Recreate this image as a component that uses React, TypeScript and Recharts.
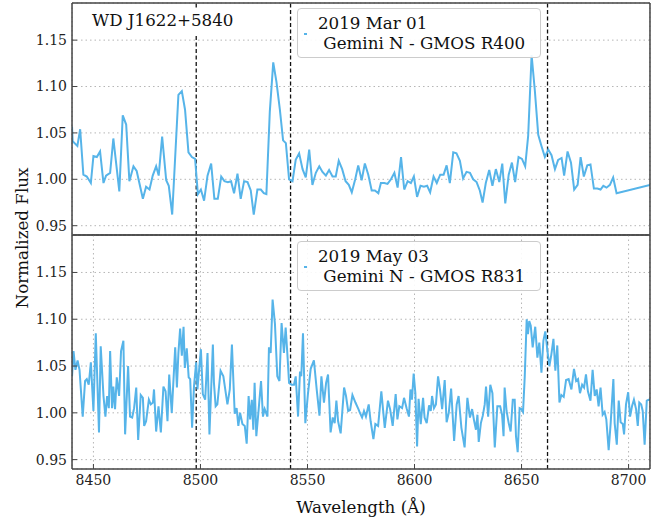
import React from 'react';
import { LineChart, Line, XAxis, YAxis, CartesianGrid, ReferenceLine } from 'recharts';

// 2019 Mar 01, Gemini N - GMOS R400
const marWave = [
  8440.0, 8440.3, 8442.5, 8443.8, 8445.3, 8446.9, 8448.8, 8450.0, 8451.6, 8453.1, 8454.7, 8455.9, 8457.8, 8459.3,
  8462.1, 8463.7, 8465.3, 8466.8, 8468.7, 8470.2, 8473.1, 8474.6, 8476.2, 8477.7, 8479.3, 8480.5, 8482.1, 8484.0,
  8485.2, 8486.8, 8489.7, 8491.3, 8492.8, 8494.4, 8496.0, 8497.5, 8498.8, 8500.2, 8501.7, 8503.3, 8505.0, 8506.5,
  8508.1, 8509.7, 8511.2, 8512.8, 8514.3, 8515.7, 8517.3, 8518.8, 8520.4, 8522.0, 8523.5, 8524.9, 8526.6, 8528.2,
  8529.6, 8530.8, 8532.4, 8534.0, 8535.5, 8537.1, 8538.6, 8539.9, 8541.4, 8543.0, 8544.5, 8546.1, 8547.7, 8549.2,
  8550.8, 8552.3, 8553.9, 8555.5, 8557.0, 8558.6, 8560.1, 8561.7, 8563.2, 8564.6, 8566.2, 8567.8, 8569.3, 8570.7,
  8572.3, 8573.7, 8575.3, 8576.8, 8578.4, 8580.0, 8581.5, 8583.1, 8584.3, 8585.9, 8587.4, 8589.0, 8590.6, 8592.1,
  8593.7, 8595.2, 8596.8, 8598.3, 8599.7, 8601.2, 8602.8, 8604.4, 8605.9, 8607.3, 8608.9, 8610.4, 8612.0, 8613.6,
  8615.0, 8616.5, 8618.1, 8619.6, 8621.2, 8622.7, 8624.3, 8625.9, 8627.4, 8629.0, 8630.5, 8631.8, 8633.3, 8634.9,
  8636.4, 8638.0, 8639.6, 8641.0, 8642.4, 8644.0, 8645.5, 8647.0, 8648.6, 8650.2, 8651.7, 8653.1, 8654.7, 8656.2,
  8657.8, 8659.3, 8660.9, 8662.5, 8664.0, 8665.6, 8667.1, 8668.7, 8669.9, 8671.5, 8673.1, 8674.6, 8676.2, 8677.6,
  8679.1, 8680.7, 8682.2, 8683.8, 8685.4, 8686.9, 8688.2, 8689.7, 8691.3, 8692.8, 8694.4, 8710.0,
];
const marFlux = [
  1.057, 1.041, 1.036, 1.054, 1.005, 1.003, 0.996, 1.025, 1.024, 1.030, 0.996, 1.004, 1.007, 1.044,
  0.987, 1.069, 1.059, 0.998, 1.014, 1.009, 0.979, 0.992, 0.989, 1.004, 1.014, 1.004, 1.046, 0.999,
  0.993, 0.962, 1.091, 1.095, 1.075, 1.029, 1.024, 1.022, 0.984, 0.989, 0.977, 1.004, 1.017, 0.979,
  0.979, 1.003, 0.998, 0.997, 0.998, 0.985, 1.006, 0.979, 0.998, 0.997, 0.988, 0.962, 0.989, 0.989,
  0.985, 0.984, 1.073, 1.126, 1.105, 1.075, 1.042, 1.039, 1.000, 0.998, 1.021, 1.028, 1.011, 1.002,
  1.032, 0.994, 1.007, 1.014, 1.008, 1.004, 1.010, 1.003, 1.003, 1.020, 1.011, 0.998, 0.994, 0.986,
  1.000, 1.015, 0.999, 1.017, 1.005, 0.988, 0.988, 0.985, 0.996, 0.996, 0.995, 1.000, 1.007, 0.991,
  1.024, 0.989, 0.998, 0.996, 1.003, 0.981, 0.993, 0.992, 0.993, 0.986, 1.003, 0.996, 1.005, 1.005,
  1.015, 0.996, 1.029, 1.028, 1.020, 1.001, 1.008, 1.007, 1.000, 0.997, 0.988, 0.975, 0.996, 1.010,
  0.993, 1.011, 0.997, 1.017, 0.974, 1.005, 1.018, 0.997, 1.024, 1.022, 1.014, 1.047, 1.134, 1.096,
  1.048, 1.036, 1.024, 1.032, 1.026, 1.011, 1.021, 1.023, 1.004, 1.030, 1.018, 0.989, 0.994, 1.024,
  1.003, 1.015, 1.016, 0.990, 0.990, 0.989, 0.993, 0.991, 0.994, 1.002, 0.985, 0.994,
];

// 2019 May 03, Gemini N - GMOS R831
const mayWave = [
  8440.0, 8440.7, 8441.6, 8442.6, 8443.5, 8445.0, 8446.1, 8446.9, 8447.8, 8448.8, 8450.0, 8451.1, 8452.6, 8453.4,
  8454.7, 8455.6, 8456.4, 8457.2, 8457.8, 8458.7, 8459.3, 8460.1, 8460.9, 8462.0, 8462.9, 8464.0, 8464.8, 8466.2,
  8467.1, 8468.1, 8469.0, 8470.0, 8470.9, 8472.1, 8473.1, 8473.7, 8474.6, 8475.9, 8476.8, 8477.8, 8478.3, 8479.3,
  8480.4, 8481.5, 8482.7, 8483.7, 8484.6, 8485.4, 8486.6, 8488.2, 8489.0, 8489.7, 8490.5, 8491.3, 8492.1, 8492.7,
  8493.6, 8494.5, 8495.2, 8496.1, 8497.0, 8498.0, 8498.6, 8500.2, 8501.1, 8502.2, 8503.3, 8504.2, 8505.8, 8506.3,
  8507.1, 8507.9, 8509.4, 8510.7, 8512.6, 8513.7, 8514.7, 8516.0, 8516.9, 8517.7, 8518.5, 8519.6, 8520.7, 8521.6,
  8522.5, 8523.2, 8524.0, 8524.7, 8525.3, 8526.1, 8527.2, 8528.3, 8529.2, 8530.0, 8531.3, 8532.0, 8532.8, 8533.7,
  8534.8, 8535.9, 8536.9, 8537.9, 8539.0, 8539.8, 8540.6, 8541.4, 8542.6, 8543.7, 8544.5, 8545.6, 8546.5, 8547.1,
  8547.9, 8549.0, 8550.2, 8551.5, 8553.0, 8554.3, 8555.6, 8556.5, 8557.7, 8558.7, 8559.6, 8560.8, 8561.8, 8562.7,
  8563.5, 8564.3, 8565.5, 8567.1, 8568.0, 8569.0, 8569.9, 8571.0, 8572.4, 8573.8, 8574.5, 8575.5, 8576.4, 8577.3,
  8578.6, 8579.5, 8580.8, 8581.7, 8583.0, 8584.5, 8586.1, 8587.6, 8588.6, 8589.8, 8591.2, 8592.0, 8592.9, 8594.2,
  8595.1, 8596.3, 8597.4, 8598.1, 8598.8, 8599.6, 8600.4, 8601.2, 8601.9, 8602.9, 8604.0, 8604.7, 8605.7, 8606.8,
  8607.6, 8608.2, 8609.1, 8610.0, 8611.0, 8611.9, 8612.9, 8614.1, 8615.0, 8616.0, 8617.1, 8618.5, 8619.7, 8620.6,
  8621.9, 8623.4, 8624.7, 8625.9, 8626.9, 8627.8, 8628.7, 8629.4, 8630.0, 8631.0, 8631.9, 8632.8, 8633.4, 8634.4,
  8635.4, 8636.4, 8637.5, 8638.7, 8640.0, 8640.9, 8641.6, 8642.1, 8643.0, 8644.0, 8644.9, 8645.9, 8646.8, 8647.4,
  8648.2, 8649.1, 8649.9, 8650.7, 8651.5, 8652.4, 8653.0, 8653.6, 8654.3, 8655.2, 8656.4, 8657.4, 8658.3, 8659.3,
  8660.2, 8661.1, 8662.1, 8663.0, 8663.9, 8664.9, 8665.8, 8666.7, 8667.7, 8668.6, 8669.7, 8670.8, 8672.0, 8673.3,
  8674.5, 8675.5, 8676.4, 8677.3, 8678.3, 8679.2, 8680.1, 8681.0, 8682.2, 8683.2, 8684.2, 8685.1, 8686.0, 8686.9,
  8687.9, 8688.8, 8689.6, 8690.7, 8691.6, 8692.9, 8693.5, 8694.5, 8695.4, 8696.3, 8697.3, 8697.9, 8698.8, 8699.8,
  8700.7, 8701.6, 8702.5, 8703.5, 8704.3, 8705.0, 8705.9, 8706.6, 8707.5, 8708.5, 8709.4, 8710.2,
];
const mayFlux = [
  1.039, 1.066, 1.046, 1.056, 1.046, 0.996, 1.034, 1.036, 1.030, 1.054, 1.002, 1.085, 0.979, 1.071,
  1.018, 0.996, 1.018, 1.005, 1.066, 1.005, 1.028, 1.004, 1.038, 1.018, 1.066, 1.077, 0.977, 1.050,
  0.996, 0.995, 1.005, 1.027, 0.971, 1.019, 1.016, 0.986, 0.991, 1.014, 1.009, 1.011, 1.025, 0.980,
  1.007, 0.979, 1.028, 1.023, 0.991, 1.041, 1.000, 1.070, 1.027, 1.064, 1.090, 1.061, 1.092, 1.048,
  1.069, 1.038, 1.036, 0.984, 1.029, 1.054, 1.025, 1.068, 1.020, 1.014, 1.064, 0.977, 1.073, 1.032,
  1.007, 1.009, 1.045, 1.039, 1.009, 1.025, 1.073, 0.999, 1.005, 0.986, 1.000, 0.988, 0.986, 0.967,
  1.018, 0.993, 1.014, 0.982, 1.032, 0.975, 1.004, 1.034, 0.996, 1.004, 0.996, 1.070, 1.064, 1.121,
  1.095, 1.039, 1.034, 1.096, 1.064, 1.091, 1.063, 1.032, 1.030, 1.030, 1.039, 0.996, 1.044, 1.039,
  1.085, 0.989, 1.020, 1.047, 1.056, 1.025, 0.997, 1.039, 1.011, 1.032, 1.041, 0.979, 0.995, 0.989,
  1.013, 0.991, 0.978, 1.027, 1.018, 1.002, 1.003, 1.019, 1.011, 1.004, 1.000, 0.995, 1.002, 0.996,
  1.009, 0.991, 0.972, 0.988, 0.986, 1.023, 0.984, 1.013, 1.004, 0.986, 1.020, 0.993, 1.007, 1.005,
  1.016, 1.005, 0.996, 1.025, 1.014, 1.042, 1.021, 0.964, 1.015, 0.988, 1.016, 0.995, 0.989, 1.008,
  1.002, 1.018, 1.005, 1.009, 1.039, 1.025, 1.004, 1.035, 0.990, 1.000, 1.026, 0.970, 1.009, 1.018,
  0.984, 0.963, 1.016, 0.995, 1.004, 0.992, 0.982, 0.998, 0.969, 0.989, 0.997, 1.009, 1.028, 0.996,
  1.030, 1.021, 0.963, 1.007, 1.007, 0.998, 0.975, 1.027, 1.002, 0.989, 0.980, 1.014, 1.014, 0.975,
  0.958, 1.005, 1.004, 1.001, 1.039, 1.100, 1.084, 1.098, 1.093, 1.070, 1.092, 1.059, 1.075, 1.043,
  1.077, 1.087, 1.066, 1.050, 1.062, 1.079, 1.045, 1.072, 1.011, 1.019, 1.017, 1.035, 1.036, 1.025,
  1.047, 1.034, 1.036, 1.021, 1.030, 1.027, 1.041, 1.023, 1.013, 1.046, 1.018, 1.025, 1.007, 1.027,
  0.998, 1.001, 0.993, 0.960, 0.988, 1.036, 0.989, 0.966, 1.013, 0.990, 0.988, 0.977, 1.009, 1.022,
  0.996, 1.007, 1.014, 1.004, 0.986, 1.011, 1.009, 1.002, 0.966, 1.013, 1.014, 1.014,
];

// Ca II triplet
const caLines = [8498.02, 8542.09, 8662.14];

const xMajor = [8450, 8500, 8550, 8600, 8650, 8700];
const xMinor = [
  8440, 8450, 8460, 8470, 8480, 8490, 8500, 8510, 8520, 8530, 8540, 8550, 8560, 8570,
  8580, 8590, 8600, 8610, 8620, 8630, 8640, 8650, 8660, 8670, 8680, 8690, 8700, 8710,
];
const yMajor = [0.95, 1.0, 1.05, 1.1, 1.15];
const yMinor = [
  0.94, 0.95, 0.96, 0.97, 0.98, 0.99, 1.0, 1.01, 1.02, 1.03, 1.04, 1.05, 1.06,
  1.07, 1.08, 1.09, 1.1, 1.11, 1.12, 1.13, 1.14, 1.15, 1.16, 1.17, 1.18, 1.19,
];

const X_DOMAIN: [number, number] = [8440, 8710];
const Y_DOMAIN: [number, number] = [0.94, 1.19];
const FONT = '"DejaVu Serif", serif';
const LINE_COLOR = '#56B4E9';
const FRAME = '#444444';
// axes are kept (almost) zero-sized so every tick set sits on the frame itself
const AX = 0.01;

function SpectrumPanel({ wave, flux, height, margin, showXLabels }: any) {
  const data = wave.map((w: number, i: number) => ({ w, f: flux[i] }));
  const tickLine = { stroke: FRAME, strokeWidth: 1 };
  const tickFont = { fill: '#222', fontSize: 14, fontFamily: FONT };
  return (
    <LineChart width={662} height={height} data={data} margin={margin}>
      <CartesianGrid xAxisId="xb" yAxisId="yl" stroke="#b5b5b5" strokeDasharray="1.5 3" />
      <XAxis xAxisId="xb" dataKey="w" type="number" domain={X_DOMAIN} allowDataOverflow ticks={xMajor} interval={0}
        height={AX} tickSize={-5} tickMargin={11} tickLine={tickLine} axisLine={{ stroke: FRAME, strokeWidth: 1.5 }}
        tick={showXLabels ? tickFont : false} />
      <XAxis xAxisId="xbm" dataKey="w" type="number" domain={X_DOMAIN} allowDataOverflow ticks={xMinor} interval={0}
        height={AX} tickSize={-3} tickLine={tickLine} axisLine={false} tick={false} />
      <XAxis xAxisId="xt" orientation="top" dataKey="w" type="number" domain={X_DOMAIN} allowDataOverflow ticks={xMajor}
        interval={0} height={AX} tickSize={-5} tickLine={tickLine} axisLine={{ stroke: FRAME, strokeWidth: 1.5 }} tick={false} />
      <XAxis xAxisId="xtm" orientation="top" dataKey="w" type="number" domain={X_DOMAIN} allowDataOverflow ticks={xMinor}
        interval={0} height={AX} tickSize={-3} tickLine={tickLine} axisLine={false} tick={false} />
      <YAxis yAxisId="yl" type="number" domain={Y_DOMAIN} allowDataOverflow ticks={yMajor} interval={0} width={AX}
        tickSize={-5} tickMargin={10} tickLine={tickLine} axisLine={{ stroke: FRAME, strokeWidth: 1.5 }}
        tick={tickFont} tickFormatter={(v: number) => v.toFixed(2)} />
      <YAxis yAxisId="ylm" type="number" domain={Y_DOMAIN} allowDataOverflow ticks={yMinor} interval={0} width={AX}
        tickSize={-3} tickLine={tickLine} axisLine={false} tick={false} />
      <YAxis yAxisId="yr" orientation="right" type="number" domain={Y_DOMAIN} allowDataOverflow ticks={yMajor} interval={0}
        width={AX} tickSize={-5} tickLine={tickLine} axisLine={{ stroke: FRAME, strokeWidth: 1.5 }} tick={false} />
      <YAxis yAxisId="yrm" orientation="right" type="number" domain={Y_DOMAIN} allowDataOverflow ticks={yMinor} interval={0}
        width={AX} tickSize={-3} tickLine={tickLine} axisLine={false} tick={false} />
      {caLines.map((x) => (
        <ReferenceLine key={x} x={x} xAxisId="xb" yAxisId="yl" stroke="#111" strokeWidth={1.3} strokeDasharray="4 2.5" />
      ))}
      <Line xAxisId="xb" yAxisId="yl" dataKey="f" type="linear" stroke={LINE_COLOR} strokeWidth={2} dot={false}
        isAnimationActive={false} />
    </LineChart>
  );
}

function LegendBox({ top, date, inst }: any) {
  return (
    <div style={{
      position: 'absolute', left: 297, top, width: 244, height: 50, boxSizing: 'border-box',
      border: '1px solid #cccccc', borderRadius: 4, background: 'rgba(255,255,255,0.9)',
      fontFamily: FONT, fontSize: 16.7, lineHeight: '20px', color: '#111', paddingTop: 4, paddingLeft: 20,
      whiteSpace: 'pre',
    }}>
      <div style={{ position: 'absolute', left: 6, top: 24, width: 3, height: 2, background: LINE_COLOR }} />
      <div>{date}</div>
      <div>{' ' + inst}</div>
    </div>
  );
}

export default function App() {
  return (
    <div style={{ position: 'absolute', left: 0, top: 0, width: 662, height: 518, background: '#fff', fontFamily: FONT }}>
      <div style={{ position: 'absolute', left: 0, top: 0 }}>
        <SpectrumPanel wave={marWave} flux={marFlux} height={240}
          margin={{ top: 3, right: 12, bottom: 5, left: 72 }} showXLabels={false} />
      </div>
      <div style={{ position: 'absolute', left: 0, top: 230 }}>
        <SpectrumPanel wave={mayWave} flux={mayFlux} height={288}
          margin={{ top: 5, right: 12, bottom: 49, left: 72 }} showXLabels />
      </div>
      <div style={{
        position: 'absolute', left: 84, top: 8, height: 27, padding: '0 8px', background: '#fff',
        fontSize: 16.7, lineHeight: '24px', color: '#111', whiteSpace: 'pre',
      }}>WD J1622+5840</div>
      <LegendBox top={8} date="2019 Mar 01" inst="Gemini N - GMOS R400" />
      <LegendBox top={241} date="2019 May 03" inst="Gemini N - GMOS R831" />
      <div style={{
        position: 'absolute', left: 261, top: 497, width: 200, textAlign: 'center',
        fontSize: 16.7, lineHeight: '20px', color: '#111',
      }}>Wavelength (Å)</div>
      <div style={{
        position: 'absolute', left: -78, top: 228, width: 200, height: 20, textAlign: 'center',
        fontSize: 16.7, lineHeight: '20px', color: '#111', transform: 'rotate(-90deg)',
      }}>Normalized Flux</div>
    </div>
  );
}
